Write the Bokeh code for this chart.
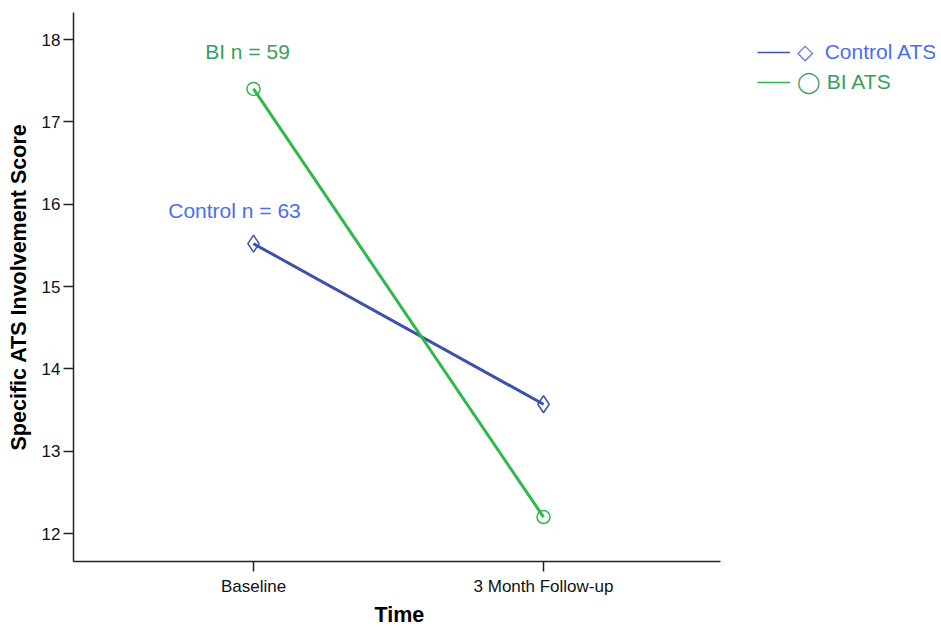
from bokeh.plotting import figure
from bokeh.models import Range1d, Legend, LegendItem, FixedTicker, Title
from bokeh.core.properties import value
from bokeh.embed import file_html
from bokeh.resources import INLINE

# ---- data ----
time_labels = ["Baseline", "3 Month Follow-up"]
time_pos = [1, 2]
control_ats = [15.52, 13.57]
bi_ats = [17.40, 12.20]
y_ticks = [12, 13, 14, 15, 16, 17, 18]
control_n = 63
bi_n = 59

# ---- style ----
FONT = "Liberation Sans"
ctrl_line = "#3d52a8"
ctrl_text = "#4a6ef0"
bi_line = "#2fb84c"
bi_text = "#37a05c"
axis_col = "#222222"

p = figure(frame_width=862, frame_height=549, output_backend="svg", toolbar_location=None,
           x_range=Range1d(0.3793, 3.3517), y_range=Range1d(11.66, 18.328),
           min_border_left=73, min_border_right=0, min_border_top=12, min_border_bottom=0)
p.xgrid.visible = False
p.ygrid.visible = False
p.outline_line_color = None
p.background_fill_color = "white"
p.border_fill_color = "white"

# x axis
xa = p.xaxis[0]
xa.ticker = FixedTicker(ticks=time_pos)
xa.major_label_overrides = {pos: lab for pos, lab in zip(time_pos, time_labels)}
xa.bounds = (0.3793, 2.61)
# y axis
ya = p.yaxis[0]
ya.ticker = FixedTicker(ticks=y_ticks)
ya.axis_label = "Specific ATS Involvement Score"

for ax in (xa, ya):
    ax.minor_tick_line_color = None
    ax.major_tick_in = 0
    ax.major_tick_out = 10
    ax.major_tick_line_color = axis_col
    ax.major_tick_line_width = 1.5
    ax.axis_line_color = axis_col
    ax.axis_line_width = 1.5
    ax.major_label_text_font = FONT
    ax.major_label_text_font_size = "17px"
    ax.major_label_text_color = "#111111"
    ax.axis_label_text_font = FONT
    ax.axis_label_text_font_size = "21.5px"
    ax.axis_label_text_font_style = "bold"
    ax.axis_label_text_color = "#000000"
xa.major_label_standoff = 5
ya.major_label_standoff = 3
ya.axis_label_standoff = 8

# x-axis title, centred under the bounded axis line (not the wider frame)
p.add_layout(Title(text="Time", align="left", offset=301, standoff=4,
                   text_font=FONT, text_font_size="21.5px", text_font_style="bold",
                   text_color="#000000"), "below")

# ---- data lines and markers ----
leg_ctrl_r = p.line(time_pos, control_ats, line_color=ctrl_line, line_width=1.5)
leg_bi_r = p.line(time_pos, bi_ats, line_color=bi_line, line_width=1.5)
p.line(time_pos, control_ats, line_color=ctrl_line, line_width=3)
p.line(time_pos, bi_ats, line_color=bi_line, line_width=3)
p.scatter(time_pos, control_ats, marker="diamond", size=17, line_color=ctrl_line,
          fill_alpha=0, line_width=1.5)
p.scatter(time_pos, bi_ats, marker="circle", size=13, line_color=bi_line,
          fill_alpha=0, line_width=1.5)

# ---- group size annotations ----
p.text(x=[time_pos[0]], y=[bi_ats[0]], text=[f"BI n = {bi_n}"], x_offset=-6, y_offset=-37,
       text_align="center", text_baseline="middle", text_font=value(FONT),
       text_font_size="21px", text_color=bi_text)
p.text(x=[time_pos[0]], y=[control_ats[0]], text=[f"Control n = {control_n}"], x_offset=-19,
       y_offset=-33, text_align="center", text_baseline="middle", text_font=value(FONT),
       text_font_size="21px", text_color=ctrl_text)

# ---- legend (two single-item legends so each label keeps its own colour) ----
def make_legend(label, rend, color, loc):
    lg = Legend(items=[LegendItem(label=label, renderers=[rend])], location=loc,
                glyph_width=33, glyph_height=20, label_height=20, label_standoff=7,
                padding=0, margin=0, spacing=0, border_line_alpha=0,
                background_fill_alpha=0, label_text_font=FONT,
                label_text_font_size="21px", label_text_color=color)
    return lg

p.add_layout(make_legend("\u25c7\u00a0 Control ATS", leg_ctrl_r, ctrl_text, (684, 497)))
p.add_layout(make_legend("\u25ef BI ATS", leg_bi_r, bi_text, (684, 467)))

open("out.html", "w").write(file_html(p, INLINE))
